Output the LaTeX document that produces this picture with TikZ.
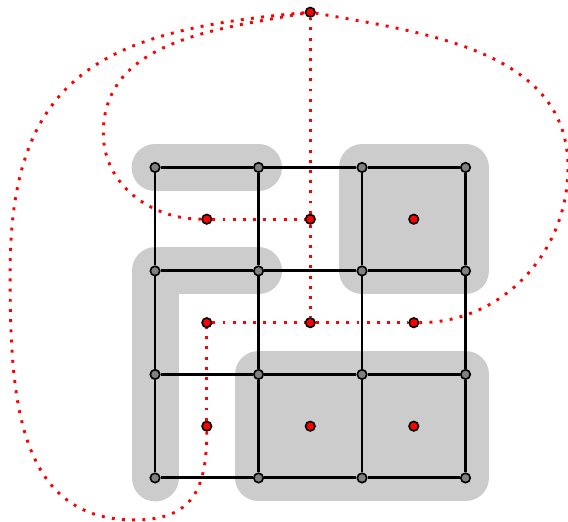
\documentclass[tikz,border=0pt]{standalone}

\begin{document}
\begin{tikzpicture}[
  vert/.style={circle,draw,fill=gray,inner sep=0pt,minimum size=2.6pt,line width=0.45pt},
  face/.style={vert,fill=red},
  region/.style={gray!40,line width=0.454cm,line cap=round,line join=round},
  dual/.style={red,thick,dotted}]
\useasboundingbox (-1.498,-0.425) rectangle (3.99,4.618);
% shaded regions
\draw[region] (0,3)--(1,3);
\draw[region] (1,2)--(0,2)--(0,0);
\filldraw[region] (2,2) rectangle (3,3);
\filldraw[region] (1,0) rectangle (3,1);
\foreach \i in {0,...,3}
  \foreach \j in {0,...,3}
    \node[vert] (v\i\j) at (\i,\j) {};
\foreach \i in {0,1,2}
  \foreach \j in {0,1,2}
    \node[face] (f\i\j) at (\i+.5,\j+.5) {};
\node[face] (o) at (1.5,4.5) {};
\foreach \j in {0,...,3}{
  \draw[thick] (v0\j)--(v1\j)--(v2\j)--(v3\j);
  \draw[thick] (v\j0)--(v\j1)--(v\j2)--(v\j3);
}
% dual edges
\draw[dual] (f02)--(f12)--(f11);
\draw[dual] (f12)--(o);
\draw[dual] (f00)--(f01)--(f11)--(f21);
\draw[dual] (f02) to[out=180,in=-90] (-0.5,3.33) to[out=90,in=190] (o);
\draw[dual] (f21) to[out=0,in=-90] (3.99,3.0) to[out=90,in=-10] (o);
\draw[dual] (f00) to[out=-90,in=0,looseness=1.3] (-0.2,-0.406)
  to[out=180,in=-90,looseness=1.1] (-1.4,2.0) to[out=90,in=185,looseness=1.3] (o);
\end{tikzpicture}
\end{document}
